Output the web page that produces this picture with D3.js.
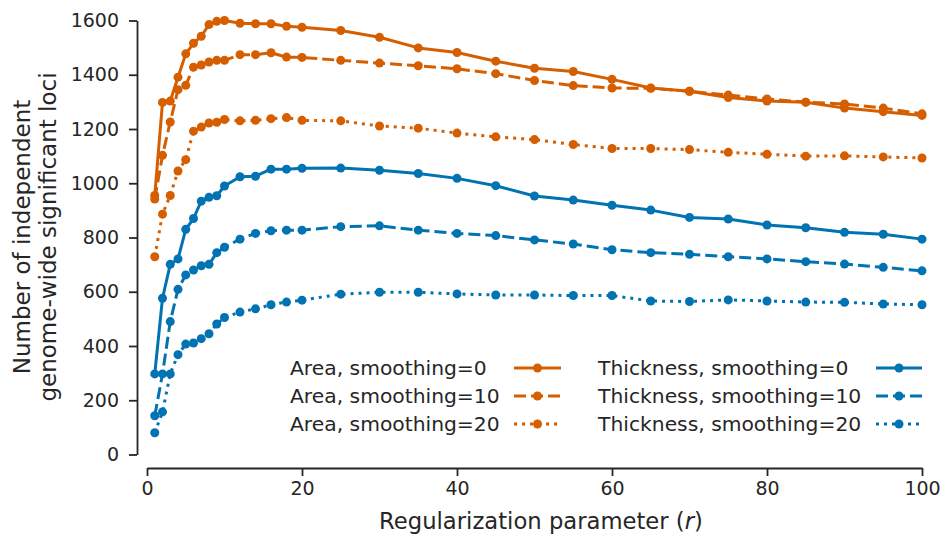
<!DOCTYPE html>
<html>
<head>
<meta charset="utf-8">
<script src="https://cdn.jsdelivr.net/npm/d3@7"></script>
<style>
  html, body { margin: 0; padding: 0; background: #fff; }
  svg { display: block; font-family: "DejaVu Sans", sans-serif; }
</style>
</head>
<body>
<svg id="chart" width="942" height="534"></svg>
<script>
// ---- data ----
const rValues = [1,2,3,4,5,6,7,8,9,10,12,14,16,18,20,25,30,35,40,45,50,55,60,65,70,75,80,85,90,95,100];
const area0   = [955,1298,1303,1391,1477,1516,1542,1585,1597,1600,1590,1588,1588,1579,1575,1563,1538,1499,1482,1450,1424,1412,1383,1351,1339,1316,1303,1299,1277,1264,1250];
const area10  = [942,1103,1226,1345,1361,1428,1436,1447,1453,1453,1474,1474,1481,1465,1464,1453,1443,1433,1422,1404,1379,1360,1351,1350,1339,1325,1311,1299,1292,1277,1256];
const area20  = [729,886,955,1045,1087,1192,1207,1222,1225,1235,1230,1232,1238,1242,1232,1230,1211,1203,1185,1171,1161,1143,1128,1128,1124,1114,1107,1100,1101,1097,1093];
const thick0  = [297,576,701,721,830,870,934,948,954,990,1024,1026,1052,1052,1055,1056,1048,1036,1018,991,953,938,919,901,874,868,846,836,819,812,794];
const thick10 = [143,297,490,609,662,680,696,701,744,764,794,815,825,827,827,840,843,827,815,807,791,776,755,744,738,729,721,711,702,690,677];
const thick20 = [80,157,297,368,407,411,427,445,481,505,525,537,552,562,569,591,598,598,592,588,588,586,586,566,564,570,566,562,561,555,552];
const seriesNames = ["Area, smoothing=0","Area, smoothing=10","Area, smoothing=20","Thickness, smoothing=0","Thickness, smoothing=10","Thickness, smoothing=20"];
const xTicks = [0,20,40,60,80,100];
const yTicks = [0,200,400,600,800,1000,1200,1400,1600];

// ---- styles ----
const ORANGE = "#d55e00", BLUE = "#0173b2";
const styles = [
  {color: ORANGE, dash: null},
  {color: ORANGE, dash: "12,5"},
  {color: ORANGE, dash: "3,5"},
  {color: BLUE, dash: null},
  {color: BLUE, dash: "12,5"},
  {color: BLUE, dash: "3,5"}
];
const allSeries = [area0, area10, area20, thick0, thick10, thick20];
const INK = "#262626";

const svg = d3.select("#chart");
const x = d3.scaleLinear().domain([0, 100]).range([147, 922]);
const y = d3.scaleLinear().domain([0, 1600]).range([454.5, 20.5]);

// axes
const xAxisG = svg.append("g").attr("transform", "translate(0,468)")
  .call(d3.axisBottom(x).tickValues(xTicks).tickFormat(d3.format("d")).tickSize(8).tickPadding(6).tickSizeOuter(0));
const yAxisG = svg.append("g").attr("transform", "translate(137,0)")
  .call(d3.axisLeft(y).tickValues(yTicks).tickFormat(d3.format("d")).tickSize(8).tickPadding(10).tickSizeOuter(0));
[xAxisG, yAxisG].forEach(g => {
  g.select(".domain").attr("stroke", INK).attr("stroke-width", 1.8);
  g.selectAll(".tick line").attr("stroke", INK).attr("stroke-width", 1.8);
  g.selectAll(".tick text").attr("fill", INK).attr("font-size", 19)
    .attr("font-family", "DejaVu Sans");
});

// axis labels
const xl = svg.append("text").attr("x", 541).attr("y", 529)
  .attr("text-anchor", "middle").attr("fill", INK).attr("font-size", 22.7);
xl.append("tspan").text("Regularization parameter (");
xl.append("tspan").attr("font-style", "italic").text("r");
xl.append("tspan").text(")");

const yl = svg.append("text").attr("transform", "translate(0,237) rotate(-90)")
  .attr("text-anchor", "middle").attr("fill", INK).attr("font-size", 23);
yl.append("tspan").attr("x", 0).attr("y", 30).text("Number of independent");
yl.append("tspan").attr("x", 0).attr("y", 56).text("genome-wide significant loci");

// lines
const line = d3.line().x((d, i) => x(rValues[i])).y(d => y(d));
allSeries.forEach((vals, k) => {
  const s = styles[k];
  const g = svg.append("g");
  g.append("path").datum(vals).attr("d", line)
    .attr("fill", "none").attr("stroke", s.color).attr("stroke-width", 3)
    .attr("stroke-dasharray", s.dash).attr("stroke-linejoin", "round");
  g.selectAll("circle").data(vals).join("circle")
    .attr("cx", (d, i) => x(rValues[i])).attr("cy", d => y(d))
    .attr("r", 4.5).attr("fill", s.color);
});

// legend
const legCols = [{tx: 290, hx0: 514, hx1: 561}, {tx: 598, hx0: 876, hx1: 922}];
const rowY = [368, 396, 424];
seriesNames.forEach((name, k) => {
  const c = legCols[Math.floor(k / 3)], ry = rowY[k % 3], s = styles[k];
  svg.append("text").attr("x", c.tx).attr("y", ry).attr("dy", "0.36em")
    .attr("fill", INK).attr("font-size", 20.3).text(name);
  svg.append("line").attr("x1", c.hx0).attr("x2", c.hx1).attr("y1", ry).attr("y2", ry)
    .attr("stroke", s.color).attr("stroke-width", 3).attr("stroke-dasharray", s.dash);
  svg.append("circle").attr("cx", (c.hx0 + c.hx1) / 2).attr("cy", ry).attr("r", 4.5).attr("fill", s.color);
});
</script>
</body>
</html>
